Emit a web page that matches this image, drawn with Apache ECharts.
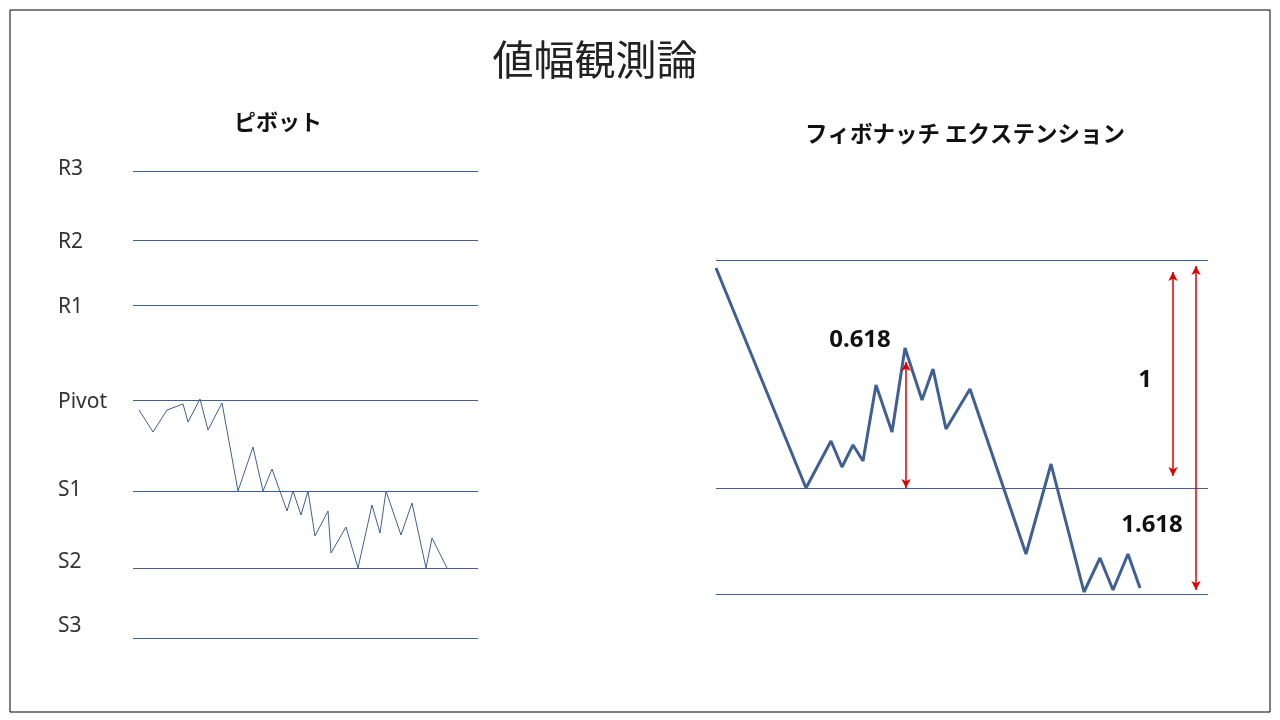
<!DOCTYPE html>
<html>
<head>
<meta charset="utf-8">
<script src="https://cdn.jsdelivr.net/npm/echarts@6/dist/echarts.min.js"></script>
<style>html,body{margin:0;background:#fff}#main{width:1280px;height:720px}</style>
</head>
<body>
<div id="main"></div>
<script>
// ピボット
var pivotNames = ['R3', 'R2', 'R1', 'Pivot', 'S1', 'S2', 'S3'];
var pivotLevels = [549, 480, 415, 320, 229, 152, 82];
var pivotX = [139, 153, 167, 183, 188, 200, 208, 222, 238, 253, 263, 272, 287, 293, 301, 308, 315, 328, 331, 346, 358, 372, 380, 386, 401, 412, 426, 432, 447];
var pivotY = [310, 288, 310, 316, 298, 321, 290, 317, 229, 273, 229, 251, 209, 229, 205, 229, 184, 209, 167, 193, 152, 215, 187, 229, 185, 217, 152, 182, 152];

// フィボナッチ
var fiboLevels = [460, 232, 126];
var fiboX = [716, 806, 831, 842, 853, 863, 876, 892, 905, 922, 933, 946, 970, 1026, 1051, 1084, 1100, 1113, 1128, 1140];
var fiboY = [452, 232, 279, 253, 275, 259, 335, 288, 372, 320, 351, 291, 331, 166, 256, 128, 162, 130, 166, 132];
var arrows = [[906, 232, 358], [1173, 244, 448], [1196, 130, 454]];

var lineColor = '#3f5f95';
// vertical shift of each level name relative to its line
var labelShift = [-3, 1, 1, 1, -2, -7, -13];

function pts(xs, ys) {
	return xs.map(function(x, i) { return [x, ys[i]]; });
}
function hidden(extra) {
	return Object.assign({
		type: 'value', show: false, splitLine: { show: false }
	}, extra);
}

var chart = echarts.init(document.getElementById('main'));
chart.setOption({
	animation: false,
	title: [
		{ text: '値幅観測論', left: 590, top: 34, textAlign: 'center', textStyle: { fontSize: 41, fontWeight: 'normal', color: '#222', fontFamily: 'Noto Sans CJK JP' } },
		{ text: 'ピボット', left: 273, top: 106, textAlign: 'center', textStyle: { fontSize: 22, fontWeight: 'bold', color: '#111', fontFamily: 'Noto Sans CJK JP' } },
		{ text: 'フィボナッチ エクステンション', left: 960, top: 117, textAlign: 'center', textStyle: { fontSize: 22.5, fontWeight: 'bold', color: '#111', fontFamily: 'Noto Sans CJK JP' } }
	],
	graphic: [{
		type: 'rect', shape: { x: 10, y: 10, width: 1260, height: 702 },
		style: { fill: 'none', stroke: '#000', lineWidth: 1 }
	}],
	grid: [
		{ left: 133, width: 345, top: 171, bottom: 82 },
		{ left: 716, width: 492, top: 260, bottom: 126 }
	],
	xAxis: [
		hidden({ gridIndex: 0, min: 133, max: 478 }),
		hidden({ gridIndex: 1, min: 716, max: 1208 })
	],
	yAxis: [
		hidden({ gridIndex: 0, min: 82, max: 549 }),
		hidden({ gridIndex: 1, min: 126, max: 460 })
	],
	series: [{
		type: 'line', xAxisIndex: 0, yAxisIndex: 0, symbol: 'none',
		data: pts(pivotX, pivotY),
		lineStyle: { color: lineColor, width: 1 },
		markLine: {
			silent: true, symbol: 'none',
			lineStyle: { color: lineColor, width: 1, type: 'solid' },
			label: {
				position: 'start', distance: 0, color: '#333', fontSize: 21,
				fontFamily: 'Noto Sans', align: 'left',
				formatter: function(p) { return p.name; }
			},
			data: pivotLevels.map(function(v, i) {
				return { name: pivotNames[i], yAxis: v, label: { offset: [-75, labelShift[i] + 1] } };
			})
		}
	}, {
		type: 'line', xAxisIndex: 1, yAxisIndex: 1, symbol: 'none',
		data: pts(fiboX, fiboY),
		lineStyle: { color: lineColor, width: 3 },
		markLine: {
			silent: true, symbol: 'none', label: { show: false },
			lineStyle: { color: lineColor, width: 1, type: 'solid' },
			data: fiboLevels.map(function(v) { return { yAxis: v }; })
		}
	}, {
		type: 'line', xAxisIndex: 1, yAxisIndex: 1, symbol: 'none', data: [],
		markLine: {
			silent: true, symbol: ['arrow', 'arrow'], symbolSize: [7, 9],
			label: { show: false },
			lineStyle: { color: '#e00000', width: 1.5, type: 'solid' },
			data: arrows.map(function(a) {
				return [{ coord: [a[0], a[1]] }, { coord: [a[0], a[2]] }];
			})
		},
		markPoint: {
			symbol: 'rect', symbolSize: 1, itemStyle: { color: 'transparent' },
			label: { show: true, color: '#111', fontSize: 24, fontWeight: 'bold', fontFamily: 'Noto Sans' },
			data: [
				{ coord: [860, 380], value: '0.618' },
				{ coord: [1145, 340], value: '1' },
				{ coord: [1152, 195], value: '1.618' }
			]
		}
	}]
});
</script>
</body>
</html>
